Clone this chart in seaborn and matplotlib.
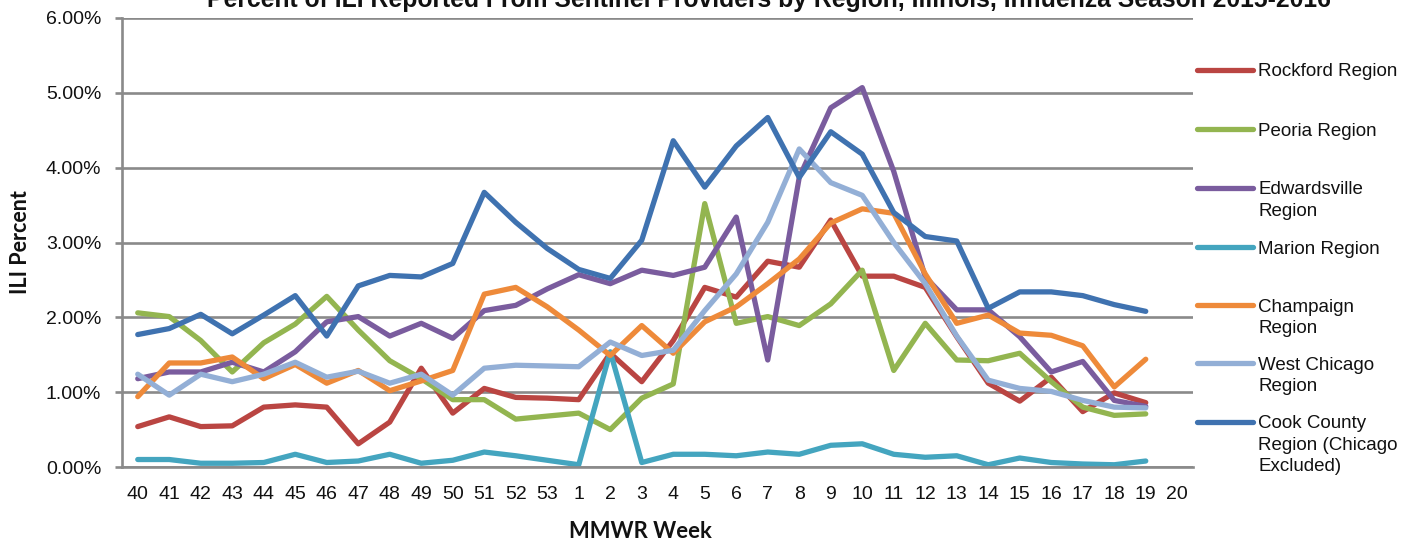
import numpy as np
import pandas as pd
import matplotlib
matplotlib.use("Agg")
import matplotlib.pyplot as plt
from matplotlib.lines import Line2D
from matplotlib.ticker import FuncFormatter
import seaborn as sns

# ---- data -------------------------------------------------------------
week_labels = ["40", "41", "42", "43", "44", "45", "46", "47", "48", "49", "50",
               "51", "52", "53", "1", "2", "3", "4", "5", "6", "7", "8", "9",
               "10", "11", "12", "13", "14", "15", "16", "17", "18", "19", "20"]

rockford = [0.54, 0.67, 0.54, 0.55, 0.80, 0.83, 0.80, 0.31, 0.60, 1.32, 0.72, 1.05, 0.93, 0.92,
            0.90, 1.52, 1.14, 1.69, 2.40, 2.27, 2.75, 2.67, 3.30, 2.55, 2.55, 2.40, 1.74, 1.12,
            0.88, 1.20, 0.74, 0.99, 0.86]
peoria = [2.06, 2.01, 1.69, 1.27, 1.66, 1.91, 2.28, 1.83, 1.42, 1.18, 0.90, 0.90, 0.64, 0.68,
          0.72, 0.50, 0.92, 1.11, 3.52, 1.92, 2.01, 1.89, 2.18, 2.63, 1.29, 1.92, 1.43, 1.42,
          1.52, 1.14, 0.80, 0.69, 0.71]
edwardsville = [1.18, 1.27, 1.27, 1.40, 1.27, 1.54, 1.94, 2.01, 1.75, 1.92, 1.72, 2.09, 2.16, 2.38,
                2.57, 2.45, 2.63, 2.56, 2.67, 3.34, 1.43, 3.87, 4.80, 5.07, 3.95, 2.54, 2.10, 2.10,
                1.74, 1.27, 1.41, 0.89, 0.81]
marion = [0.10, 0.10, 0.05, 0.05, 0.06, 0.17, 0.06, 0.08, 0.17, 0.05, 0.09, 0.20, 0.15, 0.09,
          0.03, 1.54, 0.06, 0.17, 0.17, 0.15, 0.20, 0.17, 0.29, 0.31, 0.17, 0.13, 0.15, 0.03,
          0.12, 0.06, 0.04, 0.03, 0.08]
champaign = [0.94, 1.39, 1.39, 1.47, 1.18, 1.37, 1.12, 1.29, 1.02, 1.15, 1.29, 2.31, 2.40, 2.14,
             1.83, 1.49, 1.89, 1.52, 1.94, 2.14, 2.45, 2.78, 3.26, 3.45, 3.39, 2.58, 1.92, 2.03,
             1.79, 1.76, 1.62, 1.07, 1.44]
west_chicago = [1.24, 0.96, 1.24, 1.14, 1.24, 1.40, 1.20, 1.28, 1.12, 1.24, 0.96, 1.32, 1.36, 1.35,
                1.34, 1.67, 1.49, 1.56, 2.09, 2.58, 3.27, 4.25, 3.80, 3.63, 3.00, 2.45, 1.75, 1.16,
                1.05, 1.01, 0.89, 0.80, 0.79]
cook_county = [1.77, 1.85, 2.04, 1.78, 2.03, 2.29, 1.75, 2.42, 2.56, 2.54, 2.72, 3.67, 3.27, 2.92,
               2.64, 2.52, 3.03, 4.36, 3.74, 4.29, 4.67, 3.87, 4.48, 4.18, 3.40, 3.08, 3.02, 2.12,
               2.34, 2.34, 2.29, 2.17, 2.08]

series_names = ["Rockford Region", "Peoria Region", "Edwardsville\nRegion", "Marion Region",
                "Champaign\nRegion", "West Chicago\nRegion",
                "Cook County\nRegion (Chicago\nExcluded)"]
series_values = [rockford, peoria, edwardsville, marion, champaign, west_chicago, cook_county]
colors = ["#BA4542", "#93B550", "#7A5C9E", "#44A5BF", "#EE8A3A", "#93AFD6", "#3F72B0"]

title = "Percent of ILI Reported From Sentinel Providers by Region, Illinois, Influenza Season 2015-2016"

rows = []
for name, vals in zip(series_names, series_values):
    for i, v in enumerate(vals):
        rows.append({"pos": i, "week": week_labels[i], "region": name, "ili": v})
df = pd.DataFrame(rows)

# ---- figure -----------------------------------------------------------
sns.set_theme(style="white")
plt.rcParams["font.family"] = ["Liberation Sans", "DejaVu Sans"]

fig = plt.figure(figsize=(14.18, 5.44), dpi=100)
ax = fig.add_axes([122 / 1418, 1 - 467 / 544, (1193 - 122) / 1418, (467 - 18) / 544])

sns.lineplot(data=df, x="pos", y="ili", hue="region", hue_order=series_names,
             palette=dict(zip(series_names, colors)), linewidth=3.8, legend=False,
             sort=False, ax=ax, solid_capstyle="round", solid_joinstyle="round")

grid_c = "#8A8A8A"
ax.set_ylim(0, 6)
ax.set_yticks(np.arange(0, 6.01, 1))
ax.yaxis.set_major_formatter(FuncFormatter(lambda v, p: f"{v:.2f}%"))
ax.grid(axis="y", color=grid_c, linewidth=1.9)
ax.grid(axis="x", visible=False)
ax.set_axisbelow(True)

ax.set_xlim(-0.5, len(week_labels) - 0.5)
ax.set_xticks(np.arange(len(week_labels)))
ax.set_xticklabels(week_labels)
ax.set_xticks(np.arange(-0.5, len(week_labels), 1), minor=True)

for side in ["top", "right"]:
    ax.spines[side].set_visible(False)
for side in ["left", "bottom"]:
    ax.spines[side].set_color(grid_c)
    ax.spines[side].set_linewidth(1.9)

ax.tick_params(axis="x", which="major", length=0, pad=14, labelsize=14, labelcolor="#111111")
ax.tick_params(axis="x", which="minor", length=5, width=1.9, color=grid_c, direction="out")
ax.tick_params(axis="y", which="major", length=5, width=1.9, color=grid_c, direction="out",
               pad=10, labelsize=14, labelcolor="#111111", left=True)

ax.set_xlabel("MMWR Week", fontsize=15.8, fontweight="bold", family=["Lato", "DejaVu Sans"],
              color="#111111")
ax.xaxis.set_label_coords((640 - 122) / 1071, (467 - 532) / 449)
ax.xaxis.label.set_va("center")
ax.set_ylabel("ILI Percent", fontsize=15.5, fontweight="bold", family=["Lato", "DejaVu Sans"],
              color="#111111")
ax.yaxis.set_label_coords((20 - 122) / 1071, 0.5)
ax.yaxis.label.set_va("center")

# title sits at the very top edge, as in the source image
fig.text(769 / 1418, 1 - 7 / 544, title, ha="center", va="baseline",
         fontsize=17.8, fontweight="bold", color="#111111")

# legend drawn as in the source (fixed slot per entry, handle beside first line)
slot_y = [70, 129, 188, 247, 305, 363, 422]
for name, col, yy in zip(series_names, colors, slot_y):
    yf = 1 - yy / 544
    fig.add_artist(Line2D([1197 / 1418, 1253 / 1418], [yf, yf], color=col, linewidth=3.8,
                          solid_capstyle="round", transform=fig.transFigure))
    fig.text(1258 / 1418, 1 - (yy - 6.5) / 544, name, ha="left", va="top", fontsize=13.5,
             color="#111111", linespacing=1.33)

fig.savefig("out.png", dpi=100, facecolor="white")
